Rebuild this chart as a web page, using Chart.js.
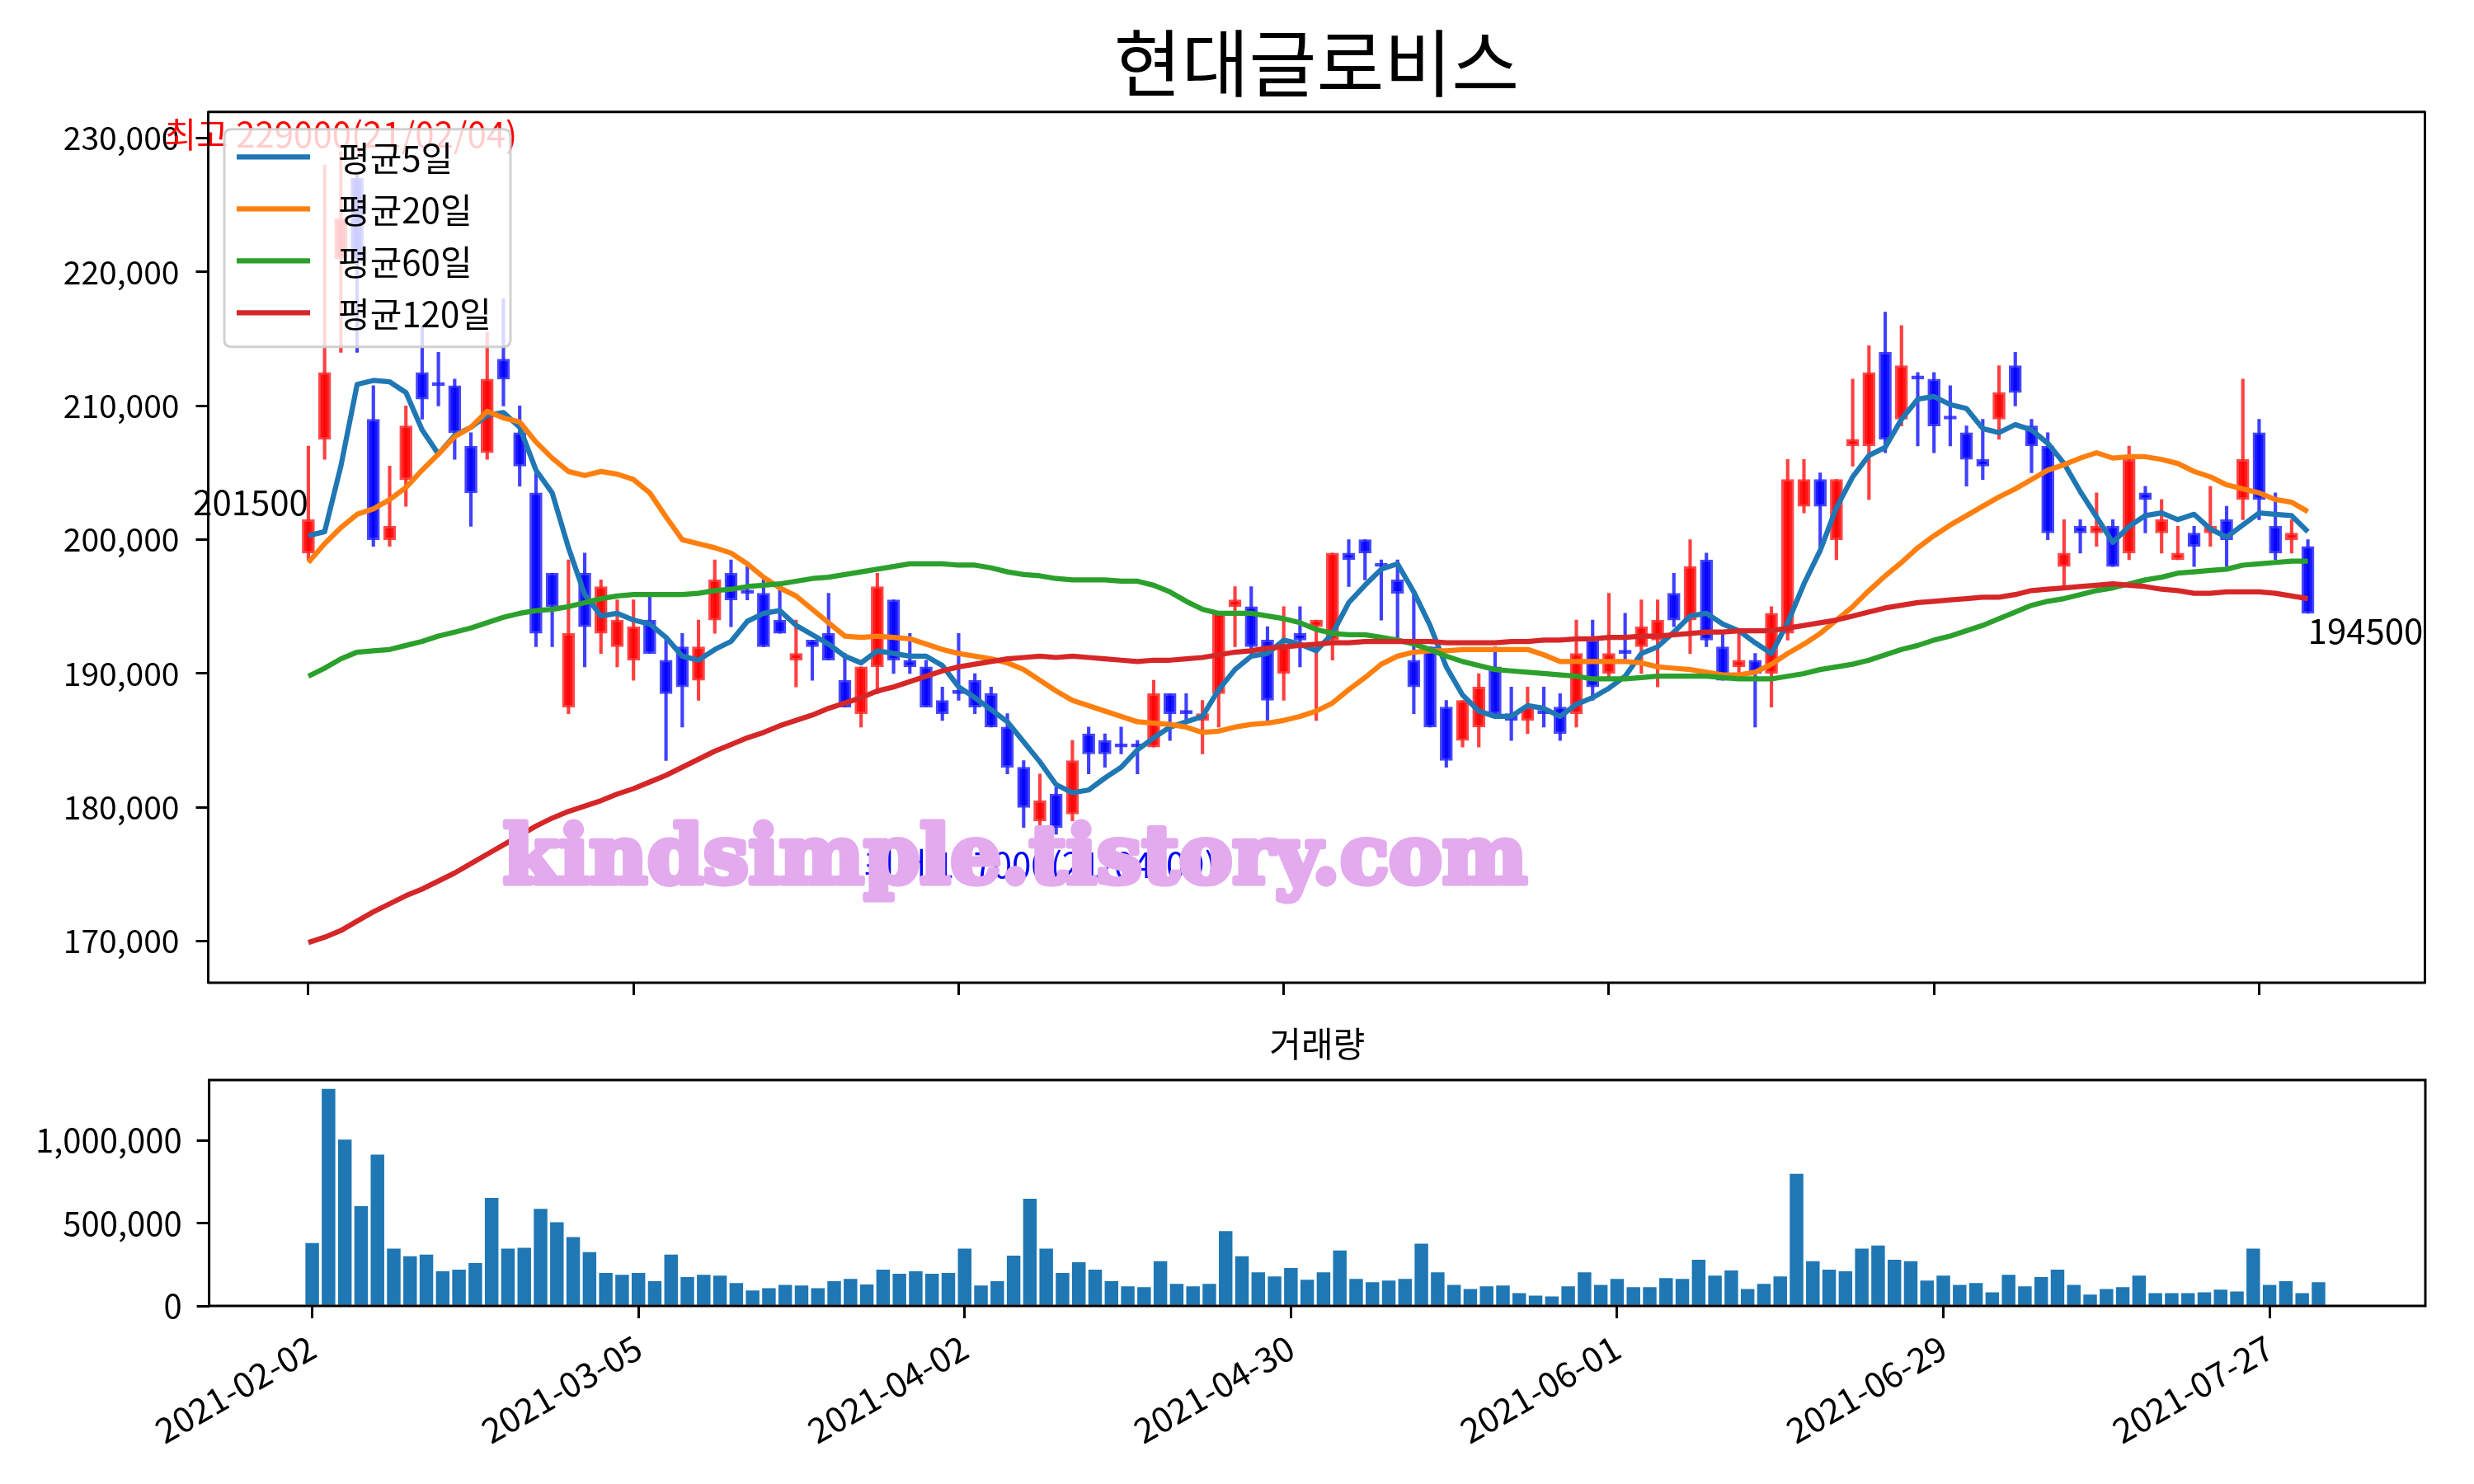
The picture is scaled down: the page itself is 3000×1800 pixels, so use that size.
<!DOCTYPE html>
<html>
<head>
<meta charset="utf-8">
<title>현대글로비스</title>
<script src="https://cdn.jsdelivr.net/npm/chart.js@4.4.1/dist/chart.umd.min.js"></script>
<style>
  html, body { margin: 0; padding: 0; background: #fff; }
  #wrap { position: relative; width: 3000px; height: 1800px; }
  #priceChart { position: absolute; left: 0; top: 0; }
  #volumeChart { position: absolute; left: 0; top: 1240px; }
</style>
</head>
<body>
<div id="wrap">
  <canvas id="priceChart" width="3000" height="1240"></canvas>
  <canvas id="volumeChart" width="3000" height="560"></canvas>
</div>
<script>
// trading days shown on the chart
const dates = [
  '2021-02-02','2021-02-03','2021-02-04','2021-02-05','2021-02-08','2021-02-09','2021-02-10','2021-02-15','2021-02-16','2021-02-17',
  '2021-02-18','2021-02-19','2021-02-22','2021-02-23','2021-02-24','2021-02-25','2021-02-26','2021-03-02','2021-03-03','2021-03-04',
  '2021-03-05','2021-03-08','2021-03-09','2021-03-10','2021-03-11','2021-03-12','2021-03-15','2021-03-16','2021-03-17','2021-03-18',
  '2021-03-19','2021-03-22','2021-03-23','2021-03-24','2021-03-25','2021-03-26','2021-03-29','2021-03-30','2021-03-31','2021-04-01',
  '2021-04-02','2021-04-05','2021-04-06','2021-04-07','2021-04-08','2021-04-09','2021-04-12','2021-04-13','2021-04-14','2021-04-15',
  '2021-04-16','2021-04-19','2021-04-20','2021-04-21','2021-04-22','2021-04-23','2021-04-26','2021-04-27','2021-04-28','2021-04-29',
  '2021-04-30','2021-05-03','2021-05-04','2021-05-06','2021-05-07','2021-05-10','2021-05-11','2021-05-12','2021-05-13','2021-05-14',
  '2021-05-17','2021-05-18','2021-05-20','2021-05-21','2021-05-24','2021-05-25','2021-05-26','2021-05-27','2021-05-28','2021-05-31',
  '2021-06-01','2021-06-02','2021-06-03','2021-06-04','2021-06-07','2021-06-08','2021-06-09','2021-06-10','2021-06-11','2021-06-14',
  '2021-06-15','2021-06-16','2021-06-17','2021-06-18','2021-06-21','2021-06-22','2021-06-23','2021-06-24','2021-06-25','2021-06-28',
  '2021-06-29','2021-06-30','2021-07-01','2021-07-02','2021-07-05','2021-07-06','2021-07-07','2021-07-08','2021-07-09','2021-07-12',
  '2021-07-13','2021-07-14','2021-07-15','2021-07-16','2021-07-19','2021-07-20','2021-07-21','2021-07-22','2021-07-23','2021-07-26',
  '2021-07-27','2021-07-28','2021-07-29','2021-07-30'
];

const opens = [
  199000,207500,221000,227000,209000,200000,204500,212500,211500,211500,
  207000,206500,213500,208000,203500,197500,187500,197500,193000,192000,
  191000,194000,191000,192000,189500,194000,197500,196000,196000,194000,
  191000,192500,193000,189500,187000,190500,195500,191000,190500,188000,
  188500,189500,188500,186000,183000,179000,181000,179500,185500,185000,
  184500,184500,184500,188500,187000,186500,188500,195000,195000,192500,
  190000,193000,193500,192500,199000,200000,198000,197000,191000,192000,
  187500,185000,186000,190500,187000,186500,187000,187500,187000,192500,
  190000,191500,192000,192500,196000,194000,198500,192000,190500,191000,
  190000,193000,202500,204500,200000,207000,207000,214000,209000,212000,
  212000,209000,208000,206000,209000,213000,208500,207000,198000,201000,
  200500,201000,199000,203500,200500,198500,200500,200500,201500,203000,
  208000,201000,200000,199500
];
const highs = [
  207000,228000,229000,227500,211500,205500,210000,216000,214000,212000,
  208000,215500,218000,210000,205000,197500,198500,199000,197000,195500,
  195500,196000,192500,193000,194000,198500,198500,198000,197000,196500,
  194000,192500,196000,191500,190500,197500,195500,193000,191000,189000,
  193000,190000,189000,187000,183500,182500,181500,185000,186000,185500,
  186000,185000,189500,188500,188500,188000,194500,196500,196500,193500,
  195000,195000,194000,199000,200000,200000,198500,198500,196000,192000,
  188000,188000,190000,192000,189000,189000,189000,188500,194000,194000,
  196000,194500,195500,195500,197500,200000,199000,193000,193000,191500,
  195000,206000,206000,205000,204500,212000,214500,217000,216000,212500,
  212500,211500,208500,209000,213000,214000,209000,208000,201500,201500,
  203500,201500,207000,204000,203000,201000,201000,204000,202500,212000,
  209000,203500,201500,200000
];
const lows = [
  198500,206000,214000,214000,199500,199500,202500,209000,210000,206000,
  201000,206000,210000,204000,192000,192000,187000,190500,191500,190500,
  189500,191500,183500,186000,188000,193000,193500,195500,192000,193000,
  189000,189500,191000,187500,186000,188500,190000,190000,187500,186500,
  188000,187000,186000,182500,178500,177000,178000,179000,182500,183000,
  184000,182500,184500,185000,186500,184000,186000,192000,191500,186500,
  188000,190500,186500,191000,196500,197000,194000,192500,187000,186000,
  183000,184500,184500,187000,185000,185500,186000,185000,186000,188000,
  189500,191000,190000,189000,193500,191500,192000,189500,190000,186000,
  187500,192500,202000,199000,198500,205500,203000,206500,208500,207000,
  206500,207000,204000,204500,207500,210000,205000,200000,196500,199000,
  199500,198000,198500,200500,199000,198500,198000,199500,198000,201500,
  201500,198500,199000,194500
];
const closes = [
  201500,212500,224000,221000,200000,201000,208500,210500,211500,208000,
  203500,212000,212000,205500,193000,195000,193000,193500,196500,194000,
  193500,191500,188500,189000,192000,197000,195500,196000,192000,193000,
  191500,192000,191000,187500,190500,196500,191000,190500,187500,187000,
  188500,187500,186000,183000,180000,180500,178500,183500,184000,184000,
  184500,184500,188500,187000,187000,187000,194500,195500,192000,188000,
  192000,192500,194000,199000,198500,199000,198000,196000,189000,186000,
  183500,188000,189000,187000,186500,187500,187000,185500,191500,189000,
  191500,191500,193500,194000,194000,198000,192500,189500,191000,190000,
  194500,204500,204500,202500,204500,207500,212500,207500,213000,212000,
  208500,209000,206000,205500,211000,211000,207000,200500,199000,200500,
  201000,198000,206000,203000,201500,199000,199500,201000,200000,206000,
  203000,199000,200500,194500
];

// moving averages as drawn in the picture
const ma5 = [
  200300,200600,205500,211600,211900,211800,211000,208200,206400,207800,
  208400,209300,209500,208400,205200,203500,199400,195900,194300,194500,
  194000,193700,192700,191300,191000,191800,192400,193900,194500,194700,
  193600,192900,192200,191300,190800,191700,191500,191300,191300,190600,
  189000,188200,187300,186400,184900,183400,181700,181100,181300,182200,
  183000,184300,185200,186000,186400,186800,188800,190300,191300,191500,
  192500,192200,191700,193000,195300,196600,197800,198200,196100,193600,
  190500,188400,187200,186800,186800,187600,187400,186800,187700,188200,
  188900,189800,191500,192000,193100,194300,194500,193700,193200,192300,
  191500,193800,196700,199200,202400,204700,206300,206900,209000,210500,
  210700,210100,209800,208300,208000,208600,208200,207200,205700,203600,
  201700,199800,201000,201800,202000,201500,201900,200800,200200,201100,
  202000,201900,201800,200600
];
const ma20 = [
  198300,199700,200900,201900,202300,203000,203900,205200,206400,207700,
  208400,209600,209100,208800,207300,206100,205100,204800,205100,204900,
  204500,203500,201700,200000,199700,199400,199000,198200,197200,196400,
  195800,194800,193800,192800,192700,192800,192700,192600,192200,191800,
  191500,191300,191100,190800,190300,189500,188700,188000,187600,187200,
  186800,186400,186300,186200,186000,185600,185700,186000,186200,186300,
  186500,186800,187200,187800,188800,189700,190700,191300,191600,191700,
  191700,191800,191800,191800,191800,191800,191400,190900,190900,190900,
  190900,190900,190800,190500,190400,190300,190100,189900,189900,190100,
  190700,191500,192200,193000,194000,195000,196200,197300,198300,199400,
  200300,201100,201800,202500,203200,203800,204500,205200,205600,206100,
  206500,206100,206200,206200,206000,205700,205100,204700,204100,203800,
  203500,203000,202800,202100
];
const ma60 = [
  189800,190400,191100,191600,191700,191800,192100,192400,192800,193100,
  193400,193800,194200,194500,194700,194800,195000,195300,195600,195800,
  195900,195900,195900,195900,196000,196200,196300,196500,196600,196700,
  196900,197100,197200,197400,197600,197800,198000,198200,198200,198200,
  198100,198100,197900,197600,197400,197300,197100,197000,197000,197000,
  196900,196900,196600,196100,195400,194800,194500,194500,194500,194300,
  194100,193800,193300,193000,192900,192900,192700,192500,192200,191800,
  191300,190900,190600,190300,190200,190100,190000,189900,189800,189600,
  189600,189600,189700,189800,189800,189800,189800,189700,189600,189600,
  189600,189800,190000,190300,190500,190700,191000,191400,191800,192100,
  192500,192800,193200,193600,194100,194600,195100,195400,195600,195900,
  196200,196400,196700,197000,197200,197500,197600,197700,197800,198100,
  198200,198300,198400,198400
];
const ma120 = [
  169900,170300,170800,171500,172200,172800,173400,173900,174500,175100,
  175800,176500,177200,177900,178600,179200,179700,180100,180500,181000,
  181400,181900,182400,183000,183600,184200,184700,185200,185600,186100,
  186500,186900,187400,187800,188200,188700,189000,189400,189800,190200,
  190500,190700,190900,191100,191200,191300,191200,191300,191200,191100,
  191000,190900,191000,191000,191100,191200,191400,191600,191700,191900,
  192000,192100,192200,192300,192300,192400,192400,192400,192400,192400,
  192300,192300,192300,192300,192400,192400,192500,192500,192600,192600,
  192700,192700,192800,192800,192900,193000,193100,193100,193200,193200,
  193200,193400,193600,193800,194000,194300,194600,194900,195100,195300,
  195400,195500,195600,195700,195700,195900,196200,196300,196400,196500,
  196600,196700,196600,196500,196300,196200,196000,196000,196100,196100,
  196100,196000,195800,195600
];

const volumes = [
  378000,1310000,1004000,601000,912000,344000,299000,308000,207000,218000,
  257000,651000,344000,349000,585000,504000,414000,324000,198000,187000,
  198000,148000,308000,173000,187000,182000,137000,92000,106000,126000,
  122000,106000,148000,162000,128000,218000,193000,207000,193000,198000,
  344000,122000,148000,302000,646000,344000,198000,263000,218000,148000,
  117000,112000,268000,131000,117000,131000,450000,299000,201000,176000,
  227000,157000,201000,333000,162000,142000,151000,162000,374000,201000,
  126000,101000,117000,122000,76000,61000,56000,117000,201000,126000,
  162000,112000,112000,167000,162000,277000,182000,212000,101000,131000,
  176000,797000,268000,218000,207000,344000,363000,277000,268000,151000,
  182000,126000,137000,81000,187000,117000,173000,218000,126000,67000,
  101000,112000,182000,76000,76000,76000,81000,97000,86000,344000,
  126000,148000,76000,142000
];

const dateTicks = [0, 20, 40, 60, 80, 100, 120];
const priceTicks = [170000, 180000, 190000, 200000, 210000, 220000, 230000];
const volumeTicks = [0, 500000, 1000000];
const maNames = ['평균5일', '평균20일', '평균60일', '평균120일'];
const maColors = ['#1f77b4', '#ff7f0e', '#2ca02c', '#d62728'];

const FONT = "'Noto Sans CJK KR', 'Noto Sans', sans-serif";
const WATERMARK = 'kindsimple.tistory.com';
Chart.defaults.font.family = FONT;
Chart.defaults.color = '#000';

const last = closes.length - 1;
const maxHigh = Math.max(...highs);
const iMax = highs.indexOf(maxHigh);
const minLow = Math.min(...lows);
const iMin = lows.indexOf(minLow);
const shortDate = d => d.slice(2).replace(/-/g, '/');

// red when the close is above the open, blue otherwise
const isUp = closes.map((c, i) => c > opens[i]);
const bodyFill = isUp.map(u => u ? 'rgba(255,0,0,0.9)' : 'rgba(0,0,255,0.9)');
const bodyEdge = isUp.map(u => u ? 'rgba(255,40,40,0.85)' : 'rgba(40,40,255,0.85)');
const wickColor = isUp.map(u => u ? 'rgba(255,0,0,0.75)' : 'rgba(0,0,255,0.75)');

function frame(ctx, a) {
  ctx.strokeStyle = '#000';
  ctx.lineWidth = 3;
  ctx.strokeRect(a.left, a.top, a.right - a.left, a.bottom - a.top);
}

function roundBox(ctx, x, y, w, h, r) {
  ctx.beginPath();
  ctx.moveTo(x + r, y);
  ctx.lineTo(x + w - r, y);
  ctx.quadraticCurveTo(x + w, y, x + w, y + r);
  ctx.lineTo(x + w, y + h - r);
  ctx.quadraticCurveTo(x + w, y + h, x + w - r, y + h);
  ctx.lineTo(x + r, y + h);
  ctx.quadraticCurveTo(x, y + h, x, y + h - r);
  ctx.lineTo(x, y + r);
  ctx.quadraticCurveTo(x, y, x + r, y);
  ctx.closePath();
}

const priceOverlay = {
  id: 'priceOverlay',
  afterDraw(chart) {
    const { ctx, chartArea: a, scales: { x, y } } = chart;
    ctx.save();

    // high / low notes
    ctx.font = `42px ${FONT}`;
    ctx.textAlign = 'center';
    ctx.fillStyle = '#ff0000';
    ctx.textBaseline = 'bottom';
    ctx.fillText(`최고 ${maxHigh}(${shortDate(dates[iMax])})`, x.getPixelForValue(iMax), y.getPixelForValue(maxHigh));
    ctx.fillStyle = '#0000ff';
    ctx.textBaseline = 'top';
    ctx.fillText(`최저 ${minLow}(${shortDate(dates[iMin])})`, x.getPixelForValue(iMin), y.getPixelForValue(minLow));

    // first and last close
    ctx.fillStyle = '#000';
    ctx.textAlign = 'right';
    ctx.textBaseline = 'bottom';
    ctx.fillText(String(closes[0]), x.getPixelForValue(0), y.getPixelForValue(closes[0]));
    ctx.textAlign = 'left';
    ctx.textBaseline = 'top';
    ctx.fillText(String(closes[last]), x.getPixelForValue(last), y.getPixelForValue(closes[last]));

    // watermark, sized to its width in the picture and thickened with a stroke
    const W = a.right - a.left, H = a.bottom - a.top;
    ctx.font = `bold 100px 'DejaVu Serif', serif`;
    const size = 100 * (0.462 * W) / ctx.measureText(WATERMARK).width;
    ctx.font = `bold ${size}px 'DejaVu Serif', serif`;
    ctx.fillStyle = '#e3aaee';
    ctx.strokeStyle = '#e3aaee';
    ctx.lineWidth = 7;
    ctx.lineJoin = 'round';
    ctx.textAlign = 'center';
    ctx.textBaseline = 'alphabetic';
    ctx.strokeText(WATERMARK, a.left + 0.364 * W, a.top + 0.885 * H);
    ctx.fillText(WATERMARK, a.left + 0.364 * W, a.top + 0.885 * H);

    // legend, upper left
    const lx = a.left + 19.5, ly = a.top + 21;
    roundBox(ctx, lx, ly, 347, 264, 9);
    ctx.fillStyle = 'rgba(255,255,255,0.8)';
    ctx.fill();
    ctx.strokeStyle = 'rgba(204,204,204,0.9)';
    ctx.lineWidth = 3;
    ctx.stroke();
    ctx.font = `42px ${FONT}`;
    ctx.textAlign = 'left';
    ctx.textBaseline = 'middle';
    maNames.forEach((name, k) => {
      const ry = ly + 33.5 + 63 * k;
      ctx.strokeStyle = maColors[k];
      ctx.lineWidth = 6.25;
      ctx.beginPath();
      ctx.moveTo(lx + 15, ry);
      ctx.lineTo(lx + 104, ry);
      ctx.stroke();
      ctx.fillStyle = '#000';
      ctx.fillText(name, lx + 138, ry + 2);
    });

    frame(ctx, a);
    ctx.restore();
  }
};

const volumeFrame = {
  id: 'volumeFrame',
  afterDraw(chart) {
    chart.ctx.save();
    frame(chart.ctx, chart.chartArea);
    chart.ctx.restore();
  }
};

const tickGrid = { drawOnChartArea: false, drawTicks: true, tickLength: 15, color: '#000', lineWidth: 3, offset: false };

const maSets = [ma5, ma20, ma60, ma120].map((arr, k) => ({
  type: 'line',
  label: maNames[k],
  data: arr.map((v, i) => ({ x: i, y: v })),
  borderColor: maColors[k],
  borderWidth: 6.25,
  pointRadius: 0,
  tension: 0,
  borderJoinStyle: 'round',
  order: 3 - k
}));

// titles use fullSize: false so they centre over the plot area
new Chart(document.getElementById('priceChart'), {
  type: 'bar',
  data: {
    datasets: [
      ...maSets,
      {
        label: 'body',
        data: opens.map((o, i) => ({ x: i, y: [o, closes[i]] })),
        backgroundColor: bodyFill,
        borderColor: bodyEdge,
        borderWidth: 3,
        borderSkipped: false,
        barThickness: 15,
        minBarLength: 4,
        grouped: false,
        order: 4
      },
      {
        label: 'wick',
        data: lows.map((l, i) => ({ x: i, y: [l, highs[i]] })),
        backgroundColor: wickColor,
        borderWidth: 0,
        barThickness: 3.5,
        grouped: false,
        order: 5
      }
    ]
  },
  options: {
    responsive: false,
    animation: false,
    devicePixelRatio: 1,
    layout: { padding: { left: 0, right: 59.5, top: 0, bottom: 0 } },
    plugins: {
      legend: { display: false },
      tooltip: { enabled: false },
      title: {
        display: true,
        fullSize: false,
        text: '현대글로비스',
        color: '#000',
        font: { size: 89, weight: 'normal', family: FONT },
        padding: { top: 23, bottom: 6 }
      }
    },
    scales: {
      x: {
        type: 'linear',
        min: -6.16,
        max: 130.2,
        offset: false,
        afterBuildTicks: s => { s.ticks = dateTicks.map(v => ({ value: v })); },
        ticks: { display: false },
        grid: tickGrid,
        border: { display: false },
        afterFit: s => { s.height = 48; }
      },
      y: {
        min: 166900,
        max: 231960,
        afterBuildTicks: s => { s.ticks = priceTicks.map(v => ({ value: v })); },
        ticks: {
          font: { size: 39 },
          padding: 20,
          callback: v => v.toLocaleString('en-US')
        },
        grid: tickGrid,
        border: { display: false },
        afterFit: s => { s.width = 252.5; }
      }
    }
  },
  plugins: [priceOverlay]
});

new Chart(document.getElementById('volumeChart'), {
  type: 'bar',
  data: {
    datasets: [{
      label: '거래량',
      data: volumes.map((v, i) => ({ x: i, y: v })),
      backgroundColor: '#1f77b4',
      barThickness: 15.8,
      borderWidth: 0
    }]
  },
  options: {
    responsive: false,
    animation: false,
    devicePixelRatio: 1,
    layout: { padding: { left: 0, right: 59, top: 0, bottom: 0 } },
    plugins: {
      legend: { display: false },
      tooltip: { enabled: false },
      title: {
        display: true,
        fullSize: false,
        text: '거래량',
        color: '#000',
        font: { size: 42, weight: 'normal', family: FONT },
        padding: { top: 1, bottom: 18.6 }
      }
    },
    scales: {
      x: {
        type: 'linear',
        min: -6.32,
        max: 129.55,
        offset: false,
        afterBuildTicks: s => { s.ticks = dateTicks.map(v => ({ value: v })); },
        ticks: {
          font: { size: 42 },
          padding: 10,
          minRotation: 30,
          maxRotation: 30,
          autoSkip: false,
          callback: v => dates[v] || ''
        },
        grid: tickGrid,
        border: { display: false },
        afterFit: s => { s.height = 216; }
      },
      y: {
        min: 0,
        max: 1365000,
        afterBuildTicks: s => { s.ticks = volumeTicks.map(v => ({ value: v })); },
        ticks: {
          font: { size: 40 },
          padding: 18,
          callback: v => v.toLocaleString('en-US')
        },
        grid: tickGrid,
        border: { display: false },
        afterFit: s => { s.width = 253.6; }
      }
    }
  },
  plugins: [volumeFrame]
});
</script>
</body>
</html>
